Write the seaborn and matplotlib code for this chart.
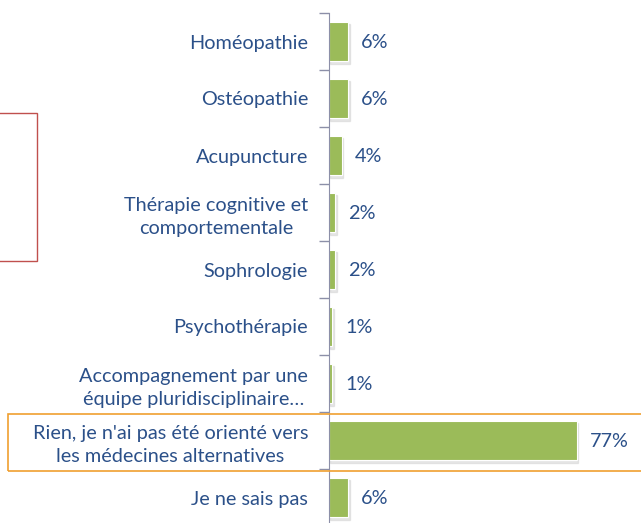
import matplotlib
matplotlib.use("Agg")
import matplotlib.pyplot as plt
import matplotlib.patches as mpatches
import seaborn as sns
import pandas as pd
import numpy as np

categories = ["Homéopathie", "Ostéopathie", "Acupuncture",
              "Thérapie cognitive et\ncomportementale", "Sophrologie",
              "Psychothérapie", "Accompagnement par une\néquipe pluridisciplinaire…",
              "Rien, je n'ai pas été orienté vers\nles médecines alternatives",
              "Je ne sais pas"]
values = [6, 6, 4, 2, 2, 1, 1, 77, 6]
labels = ["6%", "6%", "4%", "2%", "2%", "1%", "1%", "77%", "6%"]

df = pd.DataFrame({"cat": categories, "val": values})

sns.set_style("white")
plt.rcParams['font.family'] = ['Lato', 'DejaVu Sans']
txt = "#2B5089"

fig = plt.figure(figsize=(6.41, 5.23), dpi=100)
ax = fig.add_axes([329 / 641, -3 / 523, 312 / 641, 513 / 523])

sns.barplot(data=df, x="val", y="cat", orient="h", color="#9BBB59",
            saturation=1, width=0.7, ax=ax, edgecolor="white", linewidth=0.8)

# soft shadow behind bars
for p in list(ax.patches):
    sh = mpatches.Rectangle((p.get_x() + 0.4, p.get_y() + 0.05), p.get_width(),
                            p.get_height(), color="#d0d0d0", zorder=p.get_zorder() - 0.5,
                            alpha=0.5)
    ax.add_patch(sh)

ax.set_xlim(0, 97)
ax.set_ylim(len(categories) - 0.5, -0.5)
ax.set_xlabel("")
ax.set_ylabel("")
ax.set_xticks([])
ax.set_yticks(np.arange(len(categories)))
ax.set_yticklabels(categories, fontsize=14.3, color=txt, ha="right",
                   multialignment="center", linespacing=1.45)
ax.tick_params(axis="y", length=0, pad=15)
ax.set_yticks(np.arange(len(categories) + 1) - 0.5, minor=True)
ax.tick_params(axis="y", which="minor", left=True, length=7, color="#8C8FA8", width=1)
for s in ["top", "right", "bottom"]:
    ax.spines[s].set_visible(False)
ax.spines["left"].set_color("#8C8FA8")

for i, (v, l) in enumerate(zip(values, labels)):
    ax.text(v + 4, i + 0.02, l, va="center", ha="left", fontsize=14.3, color=txt)

# highlight boxes
fig.add_artist(mpatches.Rectangle((-5 / 641, 1 - 261 / 523), 42 / 641, 148 / 523,
                                  transform=fig.transFigure, fill=False,
                                  edgecolor="#C0504D", linewidth=1))
fig.add_artist(mpatches.Rectangle((8 / 641, 1 - 471 / 523), 640 / 641, 57 / 523,
                                  transform=fig.transFigure, fill=False,
                                  edgecolor="#F0A030", linewidth=1.2))

fig.savefig("out.png", dpi=100)
